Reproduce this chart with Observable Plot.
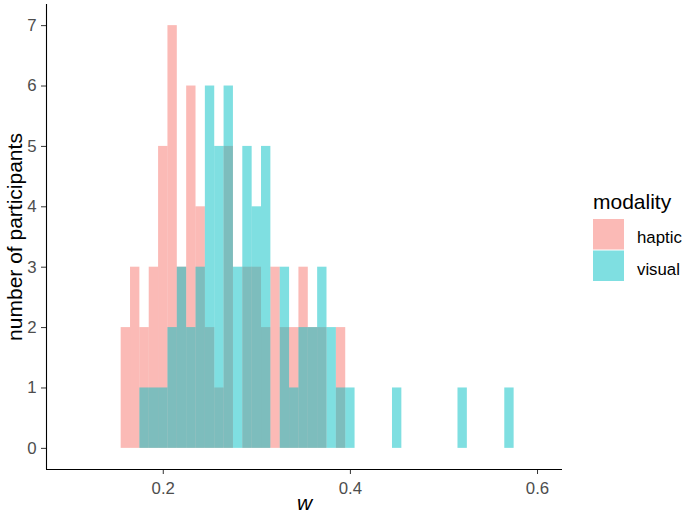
<!DOCTYPE html>
<html>
<head>
<meta charset="utf-8">
<script src="https://cdn.jsdelivr.net/npm/d3@7"></script>
<script src="https://cdn.jsdelivr.net/npm/@observablehq/plot@0.6"></script>
<style>
  html, body { margin: 0; padding: 0; background: #fff; overflow: hidden; }
  #wrap { position: relative; width: 685px; height: 515px; }
  #legend { position: absolute; left: 0; top: 0; }
  text { font-family: "Liberation Sans", Arial, sans-serif; }
</style>
</head>
<body>
<div id="wrap"></div>
<script>
// ---- data (bin centres, bin width 0.01) ----
const binWidth = 0.01;
const hapticBins   = [0.16,0.17,0.18,0.19,0.20,0.21,0.22,0.23,0.24,0.25,0.26,0.27,0.28,0.29,0.30,0.31,0.32,0.33,0.34,0.35,0.36,0.37,0.38,0.39];
const hapticCounts = [2,   3,   2,   3,   5,   7,   3,   6,   4,   2,   1,   5,   0,   3,   3,   2,   3,   2,   2,   3,   2,   2,   0,   2];
const visualBins   = [0.18,0.19,0.20,0.21,0.22,0.23,0.24,0.25,0.26,0.27,0.28,0.29,0.30,0.31,0.32,0.33,0.34,0.35,0.36,0.37,0.38,0.39,0.40,0.45,0.52,0.57];
const visualCounts = [1,   1,   1,   2,   3,   2,   3,   6,   5,   6,   3,   5,   4,   5,   0,   3,   1,   2,   2,   3,   2,   1,   1,   1,   1,   1];
const groups = ["haptic", "visual"];
const groupColors = ["#F8766D", "#00BFC4"];
const xTicks = [0.2, 0.4, 0.6];
const yTicks = [0, 1, 2, 3, 4, 5, 6, 7];
const xTitle = "w";
const yTitle = "number of participants";
const legendTitle = "modality";

const toRows = (name, bins, counts) =>
  bins.map((c, i) => ({modality: name, x1: c - binWidth / 2, x2: c + binWidth / 2, n: counts[i]}))
      .filter(d => d.n > 0);
const rows = [...toRows("haptic", hapticBins, hapticCounts), ...toRows("visual", visualBins, visualCounts)];

const xDomain = [0.0752, 0.6267];
const yDomain = [-0.35, 7.35];
const font = '"Liberation Sans", Arial, sans-serif';

const chart = Plot.plot({
  width: 685,
  height: 515,
  marginLeft: 46,
  marginRight: 123,
  marginTop: 4,
  marginBottom: 46,
  style: {fontFamily: font, fontSize: "16.8px", background: "#fff", overflow: "visible"},
  x: {domain: xDomain},
  y: {domain: yDomain},
  color: {domain: groups, range: groupColors},
  marks: [
    Plot.rect(rows, {x1: "x1", x2: "x2", y1: () => 0, y2: "n", fill: "modality", fillOpacity: 0.5, inset: 0}),
    Plot.axisX({ticks: xTicks, tickSize: 5, tickPadding: 8, tickFormat: d3.format(".1f"), label: null,
                fill: "#4d4d4d", stroke: "#333", fontSize: 16.8}),
    Plot.axisY({ticks: yTicks, tickSize: 5, tickPadding: 5, tickFormat: d3.format("d"), label: null,
                fill: "#4d4d4d", stroke: "#333", fontSize: 16.8}),
    Plot.ruleY([yDomain[0]], {stroke: "#000", strokeWidth: 1.1}),
    Plot.ruleX([xDomain[0]], {stroke: "#000", strokeWidth: 1.1}),
    Plot.text([xTitle], {frameAnchor: "bottom", dy: 34, lineAnchor: "middle", text: d => d,
                         fontSize: 21, fontStyle: "italic", fill: "#000"}),
    Plot.text([yTitle], {frameAnchor: "left", dx: -31, rotate: -90, textAnchor: "middle", lineAnchor: "middle",
                         text: d => d, fontSize: 21, fill: "#000"})
  ]
});
document.getElementById("wrap").appendChild(chart);

// ---- legend (overlay in the right margin) ----
const ns = "http://www.w3.org/2000/svg";
const lg = document.createElementNS(ns, "svg");
lg.setAttribute("id", "legend");
lg.setAttribute("width", 685);
lg.setAttribute("height", 515);
const mk = (tag, attrs, txt) => {
  const e = document.createElementNS(ns, tag);
  for (const k in attrs) e.setAttribute(k, attrs[k]);
  if (txt != null) e.textContent = txt;
  lg.appendChild(e);
  return e;
};
mk("text", {x: 593, y: 208.5, "font-size": 21, fill: "#000"}, legendTitle);
groups.forEach((g, i) => {
  const top = 219 + i * 31.5;
  mk("rect", {x: 593, y: top, width: 31, height: 30.5, fill: groupColors[i], "fill-opacity": 0.5});
  mk("text", {x: 637, y: top + 24.3, "font-size": 16.8, fill: "#000"}, g);
});
document.getElementById("wrap").appendChild(lg);
</script>
</body>
</html>
